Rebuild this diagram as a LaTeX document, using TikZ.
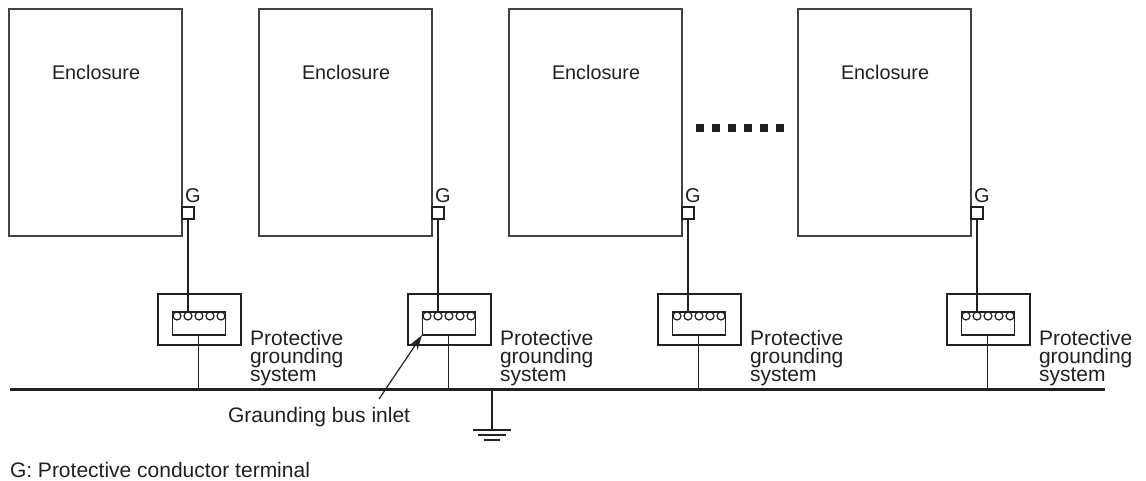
\documentclass[tikz,border=0pt]{standalone}
\usepackage{fontspec}
\setmainfont{Liberation Sans}
\usetikzlibrary{arrows.meta}
\definecolor{ink}{HTML}{231F20}
\tikzset{
  x=1pt,y=-1pt,
  ln/.style={draw=ink,line width=1.2pt},
  enclosure/.style={draw=ink!85,line width=1.4pt,minimum width=173pt,minimum height=227pt,inner sep=0pt,outer sep=0pt},
  gbox/.style={ln,minimum size=12pt,inner sep=0pt,outer sep=0pt},
  outerbox/.style={ln,minimum width=83pt,minimum height=51pt,inner sep=0pt,outer sep=0pt},
  innerbox/.style={ln,minimum width=53pt,minimum height=23pt,inner sep=0pt,outer sep=0pt},
  pin/.style={ln,circle,minimum size=8pt,inner sep=0pt,outer sep=0pt,fill=white},
  enctxt/.style={text=ink,font=\fontsize{19.8}{22}\selectfont,inner sep=0pt,outer sep=0pt,anchor=base west},
  txt/.style={text=ink,font=\fontsize{21}{22}\selectfont,inner sep=0pt,outer sep=0pt,anchor=base west},
  gtxt/.style={text=ink,font=\fontsize{20}{20}\selectfont,inner sep=0pt,outer sep=0pt,anchor=base west},
  pgs/.style={txt,align=left,font=\fontsize{21}{18}\selectfont},
  dotsq/.style={fill=ink,minimum size=8pt,inner sep=0pt,outer sep=0pt},
}
\begin{document}
\begin{tikzpicture}
\useasboundingbox (0,0) rectangle (1146,481);
\coordinate (busL) at (10,389.2);
\coordinate (busR) at (1105,389.2);
\draw[draw=ink,line width=3.2pt] (busL) -- (busR);
\foreach \i/\dx in {1/0,2/250,3/500,4/789}{
  \node[enclosure] (enc\i) at (95.5+\dx,122.5) {};
  \node[enctxt] (enct\i) at (52+\dx,80) {Enclosure};
  \node[gbox] (g\i) at (188+\dx,213) {};
  \node[gtxt] (gt\i) at (185+\dx,203) {G};
  \node[outerbox] (o\i) at (199.5+\dx,319.5) {};
  \node[innerbox] (in\i) at (198.6+\dx,323.5) {};
  \foreach \k/\kx in {1/177,2/188,3/199,4/210,5/221}{
    \node[pin] (p\i\k) at (\kx+\dx,316) {};
  }
  \draw[ln] (g\i.south) -- (p\i2.north);
  \draw[ln] (in\i.south) -- (in\i.south |- busL);
  \node[pgs] (pt\i) at (250+\dx,381) {Protective\\grounding\\system};
}
\foreach \k in {0,...,5}{
  \node[dotsq] (d\k) at (700+16*\k,128) {};
}
\coordinate (gndtop) at (492,389);
\coordinate (gnd1) at (492,430);
\draw[ln] (gndtop) -- (gnd1);
\draw[ln] ([xshift=-19pt]gnd1) -- ([xshift=19pt]gnd1);
\draw[ln] ([xshift=-14pt,yshift=-5pt]gnd1) -- ([xshift=14pt,yshift=-5pt]gnd1);
\draw[ln] ([xshift=-8pt,yshift=-10pt]gnd1) -- ([xshift=8pt,yshift=-10pt]gnd1);
\node[txt] (inlet) at (228,422) {Graunding bus inlet};
\coordinate (arrowstart) at (379,399);
\draw[ln,-{Stealth[length=15pt,width=9pt]}] (arrowstart) -- (in2.south west);
\node[txt] (legend) at (10,477) {G: Protective conductor terminal};
\end{tikzpicture}
\end{document}
